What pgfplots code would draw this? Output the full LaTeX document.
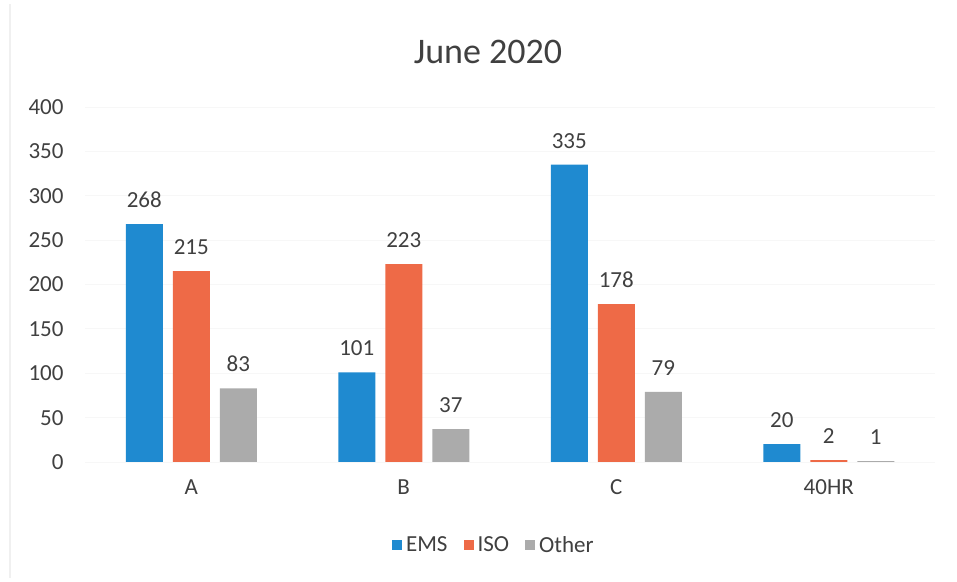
\documentclass[border=0pt]{standalone}
\usepackage{pgfplots}
\pgfplotsset{compat=1.18}
\usepackage{fontspec}
\setmainfont{Carlito}
\definecolor{ems}{HTML}{1F8AD0}
\definecolor{iso}{HTML}{EE6A47}
\definecolor{oth}{HTML}{ABABAB}
\definecolor{txt}{HTML}{404040}
\begin{document}
\begin{tikzpicture}
\path[use as bounding box] (0,0) rectangle (957bp,582bp);
\draw[gray!12, line width=1.5bp] (10bp,4bp) -- (10bp,578bp);
\node[font=\fontsize{36bp}{40bp}\selectfont, text=txt] at (488bp,530bp) {June 2020};
\begin{axis}[
  at={(85bp,120bp)}, anchor=south west,
  scale only axis, width=850bp, height=355bp,
  ybar=10bp, bar width=37bp,
  xmin=-0.5, xmax=3.5, ymin=0, ymax=400,
  ytick={0,50,...,400},
  xtick={0,1,2,3}, xticklabels={A,B,C,40HR},
  axis line style={draw=none},
  ymajorgrids, grid style={gray!6, line width=0.8bp},
  major tick length=0pt,
  /pgf/number format/assume math mode=true,
  ticklabel style={font=\fontsize{23bp}{26bp}\selectfont, text=txt},
  yticklabel style={xshift=-18bp},
  xticklabel style={yshift=-14bp},
  nodes near coords,
  every node near coord/.append style={font=\fontsize{23bp}{26bp}\selectfont, text=txt, yshift=13bp},
  legend style={at={(0.481,-0.234)}, anchor=center, draw=none, legend columns=3,
    font=\fontsize{23bp}{26bp}\selectfont, text=txt,
    /tikz/every even column/.append style={column sep=14bp},
    /tikz/every odd column/.append style={column sep=2bp}},
  legend image code/.code={\fill[#1] (0bp,-5bp) rectangle (10bp,5bp);},
]
\addplot[fill=ems, draw=none] coordinates {(0,268) (1,101) (2,335) (3,20)};
\addplot[fill=iso, draw=none] coordinates {(0,215) (1,223) (2,178) (3,2)};
\addplot[fill=oth, draw=none] coordinates {(0,83) (1,37) (2,79) (3,1)};
\legend{EMS,ISO,Other}
\end{axis}
\end{tikzpicture}
\end{document}
